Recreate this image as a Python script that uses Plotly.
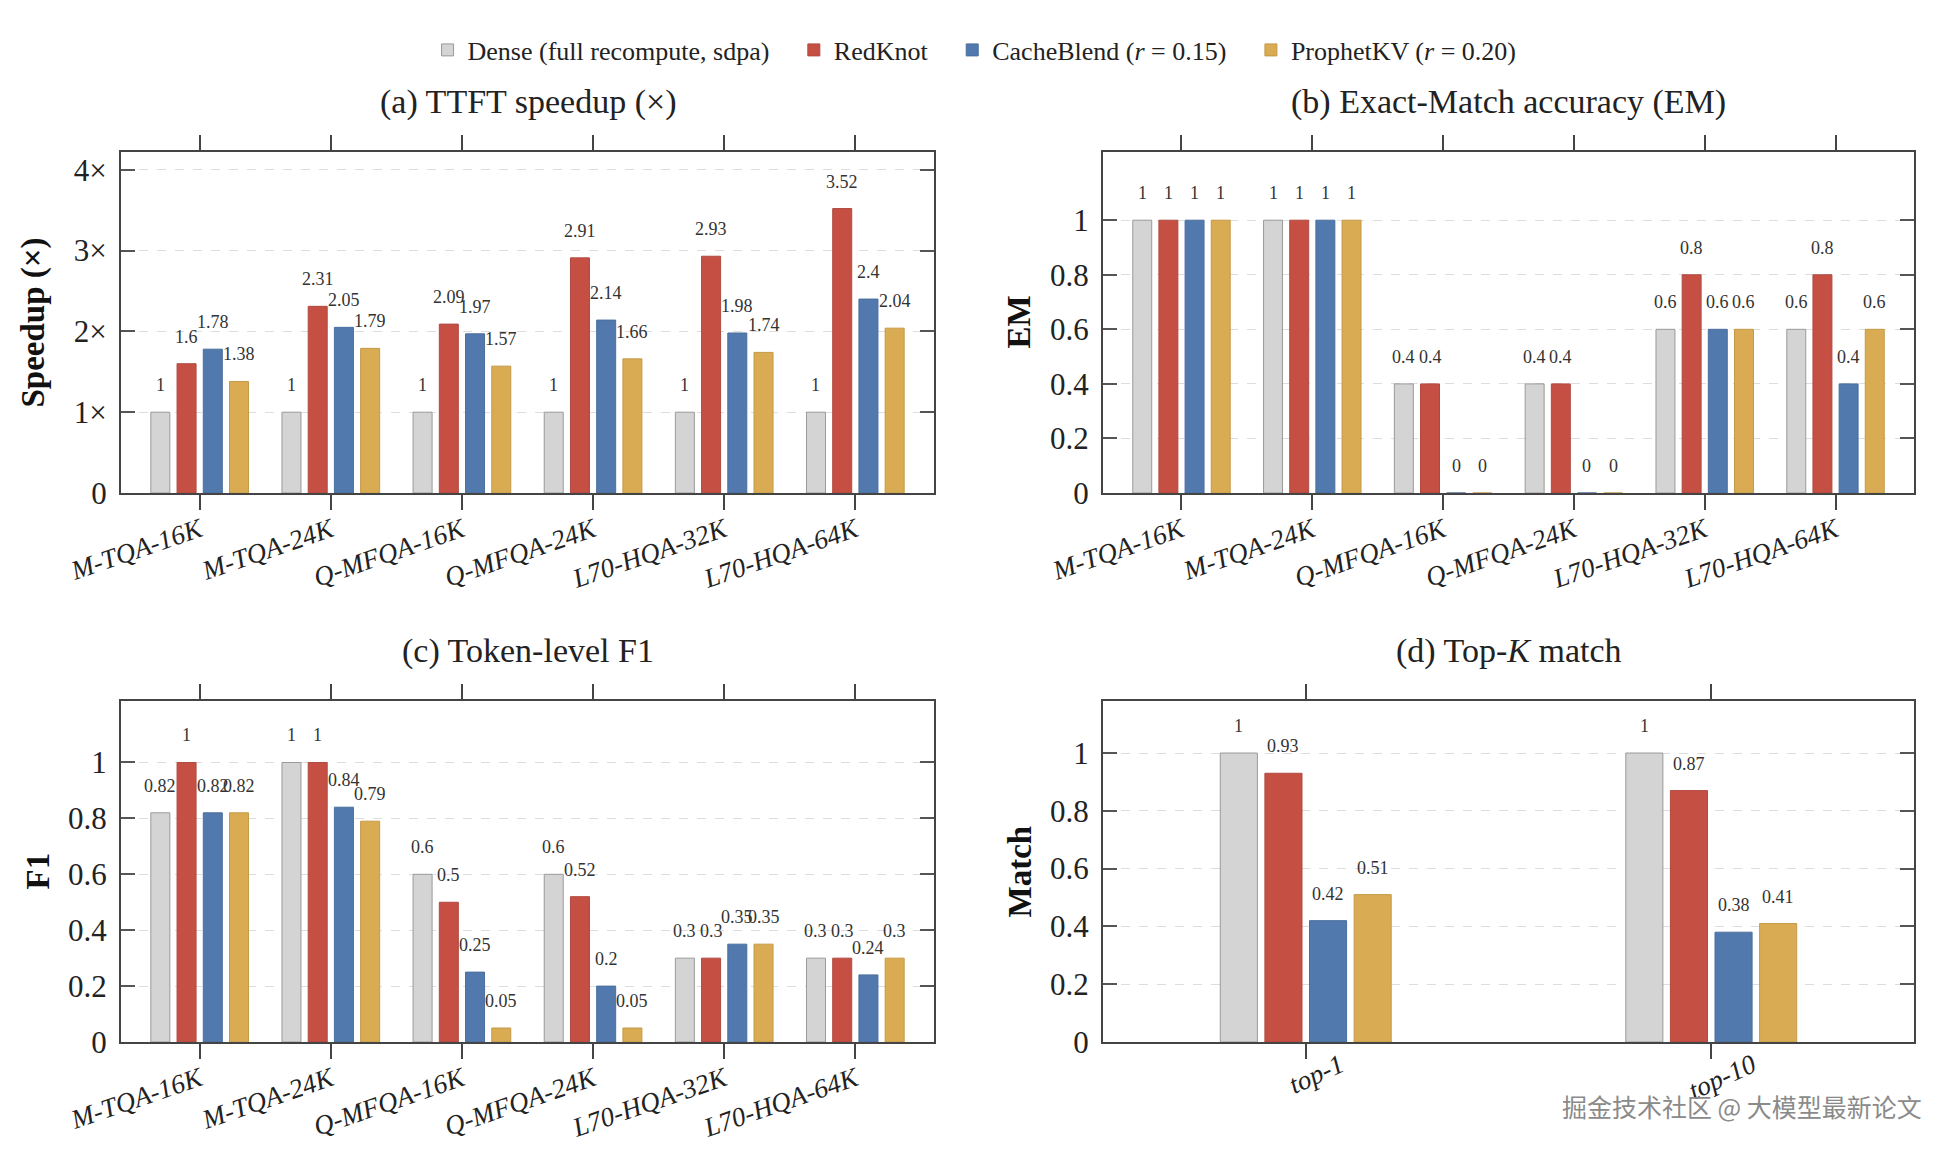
import plotly.graph_objects as go

# ---------------- data ----------------
series_names = ["Dense (full recompute, sdpa)", "RedKnot",
                "CacheBlend (<i>r</i> = 0.15)", "ProphetKV (<i>r</i> = 0.20)"]
series_colors = ["#d4d4d4", "#c64f44", "#5179ad", "#d9ab52"]
series_edges = ["#9a9a9a", "#b04a40", "#4a6f9e", "#c49a48"]

tasks = ["M-TQA-16K", "M-TQA-24K", "Q-MFQA-16K", "Q-MFQA-24K", "L70-HQA-32K", "L70-HQA-64K"]

speedup_dense = [1, 1, 1, 1, 1, 1]
speedup_redknot = [1.6, 2.31, 2.09, 2.91, 2.93, 3.52]
speedup_cacheblend = [1.78, 2.05, 1.97, 2.14, 1.98, 2.4]
speedup_prophetkv = [1.38, 1.79, 1.57, 1.66, 1.74, 2.04]

em_dense = [1, 1, 0.4, 0.4, 0.6, 0.6]
em_redknot = [1, 1, 0.4, 0.4, 0.8, 0.8]
em_cacheblend = [1, 1, 0, 0, 0.6, 0.4]
em_prophetkv = [1, 1, 0, 0, 0.6, 0.6]

f1_dense = [0.82, 1, 0.6, 0.6, 0.3, 0.3]
f1_redknot = [1, 1, 0.5, 0.52, 0.3, 0.3]
f1_cacheblend = [0.82, 0.84, 0.25, 0.2, 0.35, 0.24]
f1_prophetkv = [0.82, 0.79, 0.05, 0.05, 0.35, 0.3]

topk_cats = ["top-1", "top-10"]
topk_dense = [1, 1]
topk_redknot = [0.93, 0.87]
topk_cacheblend = [0.42, 0.38]
topk_prophetkv = [0.51, 0.41]

speedup_ticks = [0, 1, 2, 3, 4]
speedup_ticktext = ["0", "1×", "2×", "3×", "4×"]
frac_ticks = [0, 0.2, 0.4, 0.6, 0.8, 1]
frac_ticktext = ["0", "0.2", "0.4", "0.6", "0.8", "1"]

# ---------------- layout geometry ----------------
W, H = 1953, 1152
def px_x(v): return v / W
def px_y(v): return 1 - v / H

panels = [
    dict(name="a", cats=tasks, data=[speedup_dense, speedup_redknot, speedup_cacheblend, speedup_prophetkv],
         xd=[px_x(121), px_x(934)], yd=[px_y(493), px_y(152)], yr=[0, 4.22],
         tv=speedup_ticks, tt=speedup_ticktext, slot=0.2, bw=0.145, xr=[-0.6, 5.6],
         title="(a) TTFT speedup (×)", ylab="Speedup (×)", ylx=33, centered_ticks=False),
    dict(name="b", cats=tasks, data=[em_dense, em_redknot, em_cacheblend, em_prophetkv],
         xd=[px_x(1103), px_x(1914)], yd=[px_y(493), px_y(152)], yr=[0, 1.25],
         tv=frac_ticks, tt=frac_ticktext, slot=0.2, bw=0.145, xr=[-0.6, 5.6],
         title="(b) Exact-Match accuracy (EM)", ylab="EM", ylx=1019, centered_ticks=False),
    dict(name="c", cats=tasks, data=[f1_dense, f1_redknot, f1_cacheblend, f1_prophetkv],
         xd=[px_x(121), px_x(934)], yd=[px_y(1042), px_y(701)], yr=[0, 1.22],
         tv=frac_ticks, tt=frac_ticktext, slot=0.2, bw=0.145, xr=[-0.6, 5.6],
         title="(c) Token-level F1", ylab="F1", ylx=37, centered_ticks=False),
    dict(name="d", cats=topk_cats, data=[topk_dense, topk_redknot, topk_cacheblend, topk_prophetkv],
         xd=[px_x(1103), px_x(1914)], yd=[px_y(1042), px_y(701)], yr=[0, 1.18],
         tv=frac_ticks, tt=frac_ticktext, slot=0.11, bw=0.0915, xr=[-0.5, 1.5],
         title="(d) Top-<i>K</i> match", ylab="Match", ylx=1019, centered_ticks=True),
]

FONT = "Liberation Serif"
NBSP = "\u00a0"
fig = go.Figure()
annotations = []
layout = {}

for k, p in enumerate(panels):
    sfx = "" if k == 0 else str(k + 1)
    xa, ya = "x" + sfx, "y" + sfx
    xpos = list(range(len(p["cats"])))
    for j, vals in enumerate(p["data"]):
        off = (j - 1.5) * p["slot"]
        legend_name = series_names[j] + (NBSP * 3 if j < len(series_names) - 1 else "")
        fig.add_trace(go.Bar(
            x=xpos, y=vals, xaxis=xa, yaxis=ya,
            name=legend_name, legendgroup=series_names[j], showlegend=(k == 0),
            marker=dict(color=series_colors[j], line=dict(color=series_edges[j], width=1)),
            width=p["bw"], offset=off - p["bw"] / 2, hoverinfo="skip",
        ))
        for i, v in enumerate(vals):
            annotations.append(dict(
                x=i + off, y=v, xref=xa, yref=ya, text=f"{v:g}", showarrow=False,
                yanchor="middle", xanchor="center", yshift=27,
                font=dict(family=FONT, size=18, color="#333333")))
    ticktext = [f"<i>{c}</i>" for c in p["cats"]]
    if p["centered_ticks"]:
        # labels centred under their ticks (drawn as annotations on the axis)
        for i, t in enumerate(ticktext):
            annotations.append(dict(
                x=i + 0.027, y=0, xref=xa, yref=ya, text=t, showarrow=False,
                textangle=-25, xanchor="center", yanchor="top", yshift=-4,
                font=dict(family=FONT, size=27, color="#222222")))
        axis_ticktext = ["" for _ in ticktext]
    else:
        axis_ticktext = ticktext
    layout["xaxis" + sfx] = dict(
        domain=p["xd"], anchor=ya, range=p["xr"], tickmode="array",
        tickvals=xpos, ticktext=axis_ticktext,
        tickangle=-19, ticks="outside", ticklen=15, tickwidth=1.5, tickcolor="#444444",
        ticklabelstandoff=-6,
        showline=True, linecolor="#444444", linewidth=2, mirror="ticks",
        showgrid=False, zeroline=False, fixedrange=True, automargin=False,
        tickfont=dict(family=FONT, size=27, color="#222222"))
    layout["yaxis" + sfx] = dict(
        domain=p["yd"], anchor=xa, range=p["yr"], tickmode="array",
        tickvals=p["tv"], ticktext=p["tt"], ticks="inside", ticklen=14, tickwidth=2,
        tickcolor="#555555", showline=True, linecolor="#444444", linewidth=2, mirror="ticks",
        showgrid=True, gridcolor="#dddddd", gridwidth=1, griddash="dash", zeroline=False,
        automargin=False, ticklabelstandoff=6,
        tickfont=dict(family=FONT, size=31, color="#222222"), fixedrange=True)
    xc = (p["xd"][0] + p["xd"][1]) / 2
    ytop = p["yd"][1]
    annotations.append(dict(
        x=xc, y=ytop + (50 / H), xref="paper", yref="paper", text=p["title"], showarrow=False,
        xanchor="center", yanchor="middle", font=dict(family=FONT, size=34, color="#222222")))
    annotations.append(dict(
        x=px_x(p["ylx"]), y=(p["yd"][0] + p["yd"][1]) / 2, xref="paper", yref="paper",
        text=f"<b>{p['ylab']}</b>", textangle=-90, showarrow=False,
        xanchor="center", yanchor="middle", font=dict(family=FONT, size=33, color="#111111")))

annotations.append(dict(
    x=px_x(1924), y=px_y(1106), xref="paper", yref="paper",
    text="掘金技术社区 @ 大模型最新论文", showarrow=False, xanchor="right", yanchor="middle",
    font=dict(family="Noto Sans CJK SC", size=25, color="#8a8a8a")))

fig.update_layout(
    width=W, height=H, margin=dict(l=0, r=0, t=0, b=0, autoexpand=False),
    paper_bgcolor="white", plot_bgcolor="white",
    barmode="group", annotations=annotations,
    font=dict(family=FONT, color="#222222"),
    legend=dict(orientation="h", x=0.499, xanchor="center", y=px_y(50), yanchor="middle",
                font=dict(family=FONT, size=26, color="#222222"), itemwidth=30,
                bgcolor="rgba(0,0,0,0)"),
    **layout,
)

fig.write_html("out.html", config={"displayModeBar": False})
